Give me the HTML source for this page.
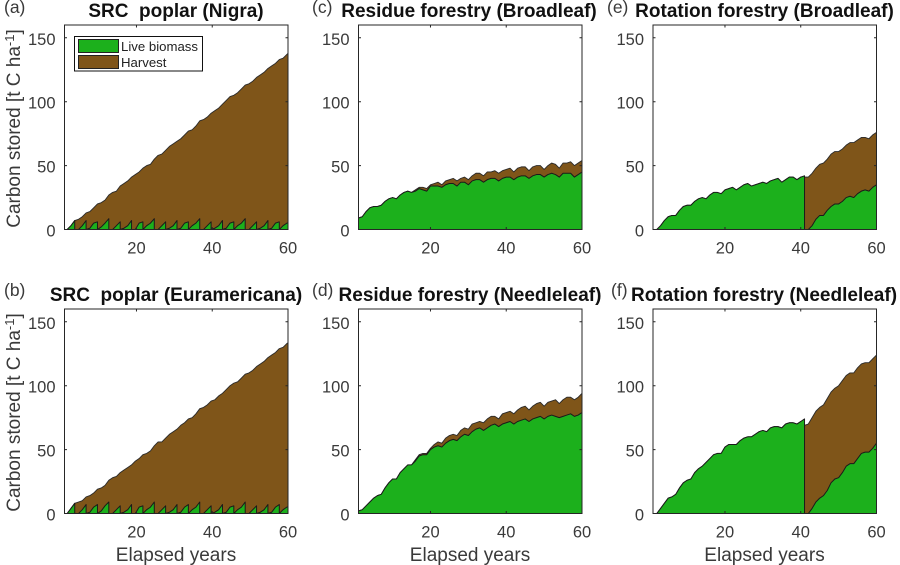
<!DOCTYPE html>
<html lang="en">
<head>
<meta charset="utf-8">
<title>Carbon stored by management type</title>
<style>
html,body{margin:0;padding:0;background:#fff;}
body{width:900px;height:565px;overflow:hidden;}
svg{display:block;}
text{font-family:"Liberation Sans",Arial,sans-serif;fill:#3a3a3a;white-space:pre;}
.tick{font-size:16.5px;}
.ttl{font-size:19px;font-weight:bold;fill:#111;text-anchor:middle;}
.ltr{font-size:17.5px;fill:#3a3a3a;}
.axl{font-size:19px;fill:#3a3a3a;text-anchor:middle;}
.leg{font-size:13.2px;fill:#222;}
</style>
</head>
<body>
<svg id="fig" width="900" height="565" viewBox="0 0 900 565" xmlns="http://www.w3.org/2000/svg">
  <g id="plots"></g>

  <text class="ltr" x="4" y="13">(a)</text>
  <text class="ltr" x="312" y="13">(c)</text>
  <text class="ltr" x="607" y="13">(e)</text>
  <text class="ltr" x="4" y="296">(b)</text>
  <text class="ltr" x="312" y="296">(d)</text>
  <text class="ltr" x="611" y="296">(f)</text>

  <text class="ttl" x="176" y="17">SRC  poplar (Nigra)</text>
  <text class="ttl" x="469" y="17">Residue forestry (Broadleaf)</text>
  <text class="ttl" x="764.5" y="17">Rotation forestry (Broadleaf)</text>
  <text class="ttl" x="176" y="301">SRC  poplar (Euramericana)</text>
  <text class="ttl" x="470" y="301">Residue forestry (Needleleaf)</text>
  <text class="ttl" x="764" y="301">Rotation forestry (Needleleaf)</text>

  <text class="axl" transform="translate(20,128.5) rotate(-90)">Carbon stored [t C ha<tspan dy="-6" font-size="13">-1</tspan><tspan dy="6">]</tspan></text>
  <text class="axl" transform="translate(20,412.5) rotate(-90)">Carbon stored [t C ha<tspan dy="-6" font-size="13">-1</tspan><tspan dy="6">]</tspan></text>

  <text class="axl" x="176" y="561">Elapsed years</text>
  <text class="axl" x="470" y="561">Elapsed years</text>
  <text class="axl" x="764.5" y="561">Elapsed years</text>

  <g id="legend">
    <rect x="74.5" y="36.5" width="128" height="34.5" fill="#fff" stroke="#111" stroke-width="1"/>
    <rect x="78.5" y="39.5" width="40" height="13" fill="#1cb01c" stroke="#222" stroke-width="1"/>
    <rect x="78.5" y="55.5" width="40" height="13" fill="#7f5519" stroke="#222" stroke-width="1"/>
    <text class="leg" x="121" y="51">Live biomass</text>
    <text class="leg" x="121" y="67">Harvest</text>
  </g>
</svg>
<script>
// Axis tick values
const xTicks = [20, 40, 60];
const yTicks = [0, 50, 100, 150];

// Sample years: forests are sampled on whole years, coppice harvests fall 0.3 yr before them
const forestYears = Array.from({ length: 60 }, (_, i) => i + 1);
const coppiceYears = Array.from({ length: 61 }, (_, i) => i + 0.7);

// Sample indices at which live biomass is felled back to zero
const coppiceDrops = [3,6,9,12,15,18,21,24,27,30,33,36,39,42,45,48,51,54,57];
const rotationDrops = [40];
const noDrops = [];

// Values (t C / ha): live biomass and live + harvest stack top
const aLive = [0,0,3,7,0,3,7,1,5,6,2,5,8.5,0,3,6,1,3,7,0,5,6,3,5,8.5,0,3,6,1,3,7,1,5,6,3,5,8.5,0,3,6,1,3,7,1,5,6,3,5,8.5,0,3,6,1,3,7,1,5,6,3,5,6];
const aTotal = [0,0,3,7,8,10,13,14,17,20,21,23,27,29,30,34,36,38,41,43,45,48,50,51,55,58,59,62,65,67,69,71,74,77,78,81,85,86,88,91,93,95,98,101,104,105,107,110,113,114,116,119,121,123,126,128,130,133,134,137,140];

const bLive = [0,0,4,8,0,3,7,1,5,7,2,6,9,0,3,6,1,3,7,0,5,6,3,5,9,0,3,6,1,3,7,1,5,7,3,5,9,0,3,6,1,3,7,1,5,6,3,5,9,0,3,6,1,3,7,1,5,7,3,5,6];
const bTotal = [0,0,4,8,9,10,13,14,16,19,20,22,26,28,29,32,34,36,38,41,43,46,47,49,53,56,56,59,62,64,66,69,71,74,75,78,82,83,85,88,89,92,94,97,100,102,103,106,109,110,112,115,117,119,122,124,126,129,130,133,135];

const cLive = [9,10,14,17,18,18,19,22,24,25,24,27,29,30,29,30,32,31,30,34,34,34,33,35,36,36,34,37,37,35,38,39,39,37,39,40,40,38,40,41,41,39,41,42,42,40,42,43,43,41,43,44,43,41,44,44,44,41,43,45];
const cTotal = [9,10,14,17,18,18,19,22,24,25,24,27,29,30,29,31,33,33,32,35,36,37,35,38,39,40,38,40,41,39,42,44,44,42,45,45,46,44,46,47,48,45,48,49,49,46,49,50,50,47,50,52,51,48,52,52,53,50,52,54];

const dLive = [2,3,6,9,12,14,15,20,24,27,27,32,35,38,38,41,45,46,46,50,52,53,52,55,57,58,57,60,62,61,64,66,67,65,67,69,70,68,70,71,72,70,72,73,74,72,74,75,76,74,76,77,76,75,76,77,78,76,77,79];
const dTotal = [2,3,6,9,12,14,15,20,24,27,27,32,35,38,38,42,46,47,47,51,54,56,55,59,61,62,61,65,67,66,70,71,72,71,74,76,76,74,78,79,80,78,81,83,84,81,84,86,87,84,87,88,89,86,89,91,91,89,91,94];

const eLive = [0,0,3,7,10,11,11,15,18,19,19,22,24,25,24,27,29,29,28,31,32,33,31,33,35,36,34,35,36,37,36,38,39,40,37,39,41,41,39,41,42,0,3,8,11,11,15,18,20,20,22,25,26,25,28,30,31,30,33,35];
const eTotal = [0,0,3,7,10,11,11,15,18,19,19,22,24,25,24,27,29,29,28,31,32,33,31,33,35,36,34,35,36,37,36,38,39,40,37,39,41,41,39,41,41,41,44,48,51,52,55,59,61,61,63,66,68,68,70,72,72,71,74,76];

const fLive = [0,0,4,8,12,13,15,20,24,26,27,32,35,37,40,43,46,47,47,52,54,54,54,57,59,60,60,62,64,65,64,67,68,68,67,70,71,71,70,72,74,0,4,9,12,14,18,24,27,28,32,37,39,39,43,47,48,48,51,55];
const fTotal = [0,0,4,8,12,13,15,20,24,26,27,32,35,37,40,43,46,47,47,52,54,54,54,57,59,60,60,62,64,65,64,67,68,68,67,70,71,71,70,72,69,70,75,80,83,85,90,95,98,100,104,108,110,110,114,117,118,118,121,124];

const X_MIN = 1, X_MAX = 60, Y_MAX = 160, PW = 223.5, PH = 204.5;
const NS = 'http://www.w3.org/2000/svg';
const fig = document.getElementById('fig');
const plots = document.getElementById('plots');
const defs = document.createElementNS(NS, 'defs');
fig.insertBefore(defs, plots);

function mk(tag, attrs, parent) {
  const el = document.createElementNS(NS, tag);
  for (const k in attrs) el.setAttribute(k, attrs[k]);
  parent.appendChild(el);
  return el;
}

function drawPanel(id, left, top, years, live, total, drops) {
  const xs = v => left + ((v - X_MIN) / (X_MAX - X_MIN)) * PW;
  const ys = v => top + PH - (v / Y_MAX) * PH;
  const base = ys(0);
  const firstX = xs(years[0]).toFixed(2);
  const lastX = xs(years[years.length - 1]).toFixed(2);

  const clip = mk('clipPath', { id: 'clip-' + id }, defs);
  mk('rect', { x: left, y: top, width: PW, height: PH }, clip);

  const g = mk('g', {}, plots);
  
  

  const marks = mk('g', { 'clip-path': 'url(#clip-' + id + ')' }, g);
  
  

  const topPts = total.map((v, i) => xs(years[i]).toFixed(2) + ',' + ys(v).toFixed(2));
  const harvest = mk('polygon', {
    points: firstX + ',' + base + ' ' + topPts.join(' ') + ' ' + lastX + ',' + base,
    fill: '#7f5519', stroke: '#2a2a2a', 'stroke-width': 0.9, 'stroke-linejoin': 'round'
  }, marks);
  
  

  const livePts = [];
  live.forEach((v, i) => {
    const px = xs(years[i]).toFixed(2);
    livePts.push(px + ',' + ys(v).toFixed(2));
    if (drops.includes(i)) livePts.push(px + ',' + base);
  });
  const liveArea = mk('polygon', {
    points: firstX + ',' + base + ' ' + livePts.join(' ') + ' ' + lastX + ',' + base,
    fill: '#1cb01c', stroke: '#1a1a1a', 'stroke-width': 1, 'stroke-linejoin': 'round'
  }, marks);
  
  

  const box = mk('rect', {
    x: left, y: top, width: PW, height: PH, fill: 'none', stroke: '#262626', 'stroke-width': 1
  }, g);
  
  

  xTicks.forEach(t => {
    const p = xs(t);
    const m = mk('path', {
      d: 'M' + p + ' ' + base + 'v-2.5M' + p + ' ' + top + 'v2.5', stroke: '#262626', 'stroke-width': 1, fill: 'none'
    }, g);
    
    
    const label = mk('text', { class: 'tick', x: p, y: base + 24, 'text-anchor': 'middle' }, g);
    label.textContent = t;
    
    
  });

  yTicks.forEach(t => {
    const p = ys(t);
    const m = mk('path', {
      d: 'M' + left + ' ' + p + 'h2.5M' + (left + PW) + ' ' + p + 'h-2.5', stroke: '#262626', 'stroke-width': 1, fill: 'none'
    }, g);
    
    
    const label = mk('text', { class: 'tick', x: left - 9, y: p + 7, 'text-anchor': 'end' }, g);
    label.textContent = t;
    
    
  });
}

drawPanel('a', 64.5, 25, coppiceYears, aLive, aTotal, coppiceDrops);
drawPanel('c', 358.5, 25, forestYears, cLive, cTotal, noDrops);
drawPanel('e', 653, 25, forestYears, eLive, eTotal, rotationDrops);
drawPanel('b', 64.5, 309, coppiceYears, bLive, bTotal, coppiceDrops);
drawPanel('d', 358.5, 309, forestYears, dLive, dTotal, noDrops);
drawPanel('f', 653, 309, forestYears, fLive, fTotal, rotationDrops);
</script>
</body>
</html>
